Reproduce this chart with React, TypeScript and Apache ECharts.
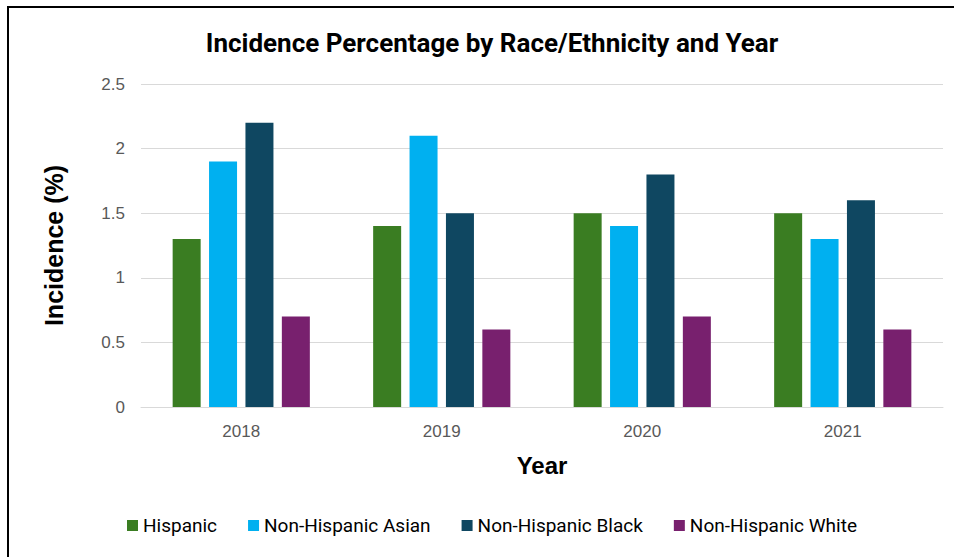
import React, { useEffect, useRef } from "react";
import * as echarts from "echarts";

const years = ["2018", "2019", "2020", "2021"];
const hispanic = [1.3, 1.4, 1.5, 1.5];
const nhAsian = [1.9, 2.1, 1.4, 1.3];
const nhBlack = [2.2, 1.5, 1.8, 1.6];
const nhWhite = [0.7, 0.6, 0.7, 0.6];
const seriesNames = ["Hispanic", "Non-Hispanic Asian", "Non-Hispanic Black", "Non-Hispanic White"];
const colors = ["#3A7D22", "#00B0F0", "#0F4761", "#78206E"];

export default function App() {
  const ref = useRef<HTMLDivElement>(null);
  useEffect(() => {
    if (!ref.current) return;
    const chart = echarts.init(ref.current, undefined, { renderer: "svg" });
    const data = [hispanic, nhAsian, nhBlack, nhWhite];
    chart.setOption({
      animation: false,
      backgroundColor: "#ffffff",
      title: {
        text: "Incidence Percentage by Race/Ethnicity and Year",
        left: 487,
        top: 25,
        textAlign: "center",
        textStyle: {
          fontFamily: "Roboto",
          fontWeight: "bold",
          fontSize: 26,
          color: "#000000",
        },
      },
      legend: {
        left: 127,
        top: 516,
        padding: 0,
        itemWidth: 11,
        itemHeight: 11,
        itemGap: 31,
        icon: "rect",
        textStyle: {
          fontFamily: "Roboto",
          fontSize: 19,
          color: "#000000",
        },
        data: seriesNames,
      },
      grid: { left: 141, right: 11, top: 84, bottom: 150, containLabel: false },
      xAxis: {
        type: "category",
        data: years,
        name: "Year",
        nameLocation: "middle",
        nameGap: 46,
        nameTextStyle: { fontFamily: "Liberation Sans", fontWeight: "bold", fontSize: 24, color: "#000" },
        axisLine: { lineStyle: { color: "#D9D9D9", width: 1 } },
        axisTick: { show: false },
        axisLabel: { fontFamily: "Liberation Sans", fontSize: 17, color: "#595959", margin: 16 },
      },
      yAxis: {
        type: "value",
        min: 0,
        max: 2.5,
        interval: 0.5,
        name: "Incidence (%)",
        nameLocation: "middle",
        nameGap: 75,
        nameRotate: 90,
        nameTextStyle: { fontFamily: "Liberation Sans", fontWeight: "bold", fontSize: 25, color: "#000" },
        axisLine: { show: false },
        axisTick: { show: false },
        splitLine: { lineStyle: { color: "#D9D9D9", width: 1 } },
        axisLabel: { fontFamily: "Liberation Sans", fontSize: 17, color: "#595959", margin: 16 },
      },
      series: seriesNames.map((name, i) => ({
        name,
        type: "bar",
        data: data[i],
        barWidth: 28,
        barGap: "30%",
        barCategoryGap: "32%",
        itemStyle: { color: colors[i] },
      })),
    });
    return () => chart.dispose();
  }, []);
  return (
    <div style={{ position: "fixed", left: 0, top: 0, width: 954, height: 557, background: "#fff" }}>
      <div ref={ref} style={{ width: 954, height: 557 }} />
      <div
        style={{
          position: "absolute",
          left: 7,
          top: 6,
          width: 960,
          height: 560,
          borderLeft: "2px solid #000",
          borderTop: "2px solid #000",
          pointerEvents: "none",
        }}
      />
    </div>
  );
}
